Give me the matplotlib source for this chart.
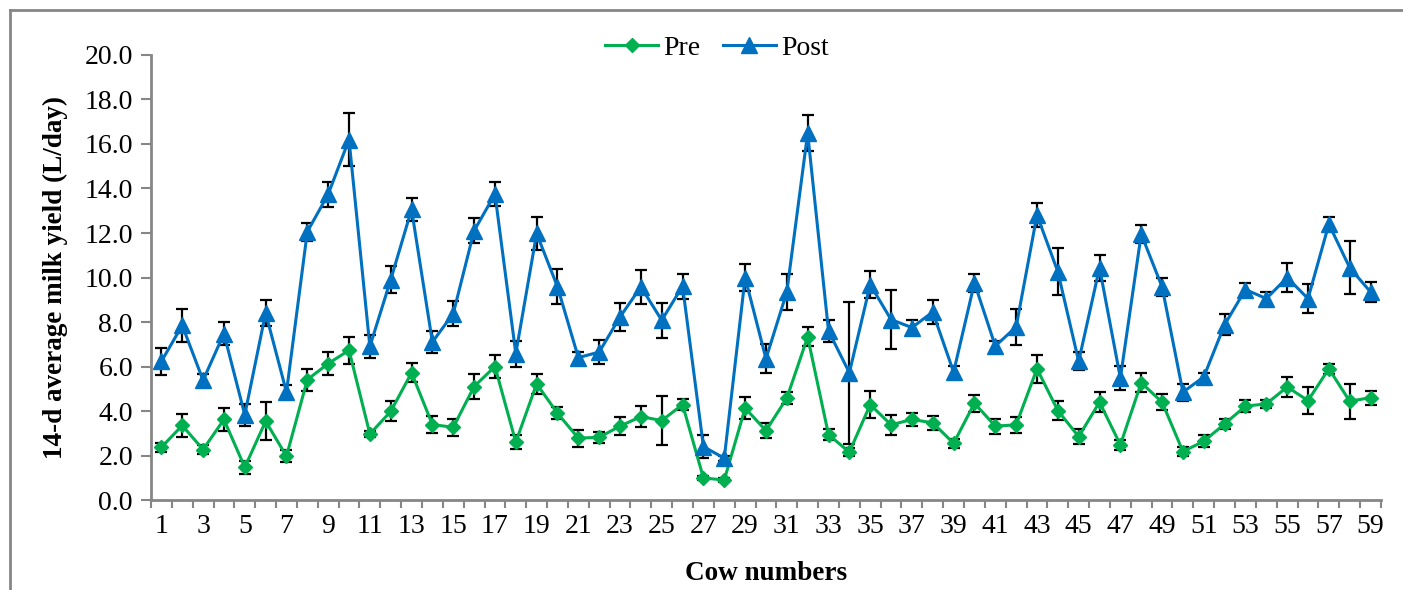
import numpy as np
import matplotlib.pyplot as plt
from matplotlib.lines import Line2D

plt.rcParams['font.family'] = ['Liberation Serif', 'DejaVu Serif']

# ---------------------
# Data
cows = np.arange(1, 60)

pre = [2.37, 3.35, 2.27, 3.62, 1.47, 3.54, 1.97, 5.41, 6.13, 6.73,
       2.97, 3.98, 5.72, 3.39, 3.27, 5.10, 6.00, 2.60, 5.22, 3.90,
       2.78, 2.82, 3.32, 3.75, 3.57, 4.29, 0.99, 0.90, 4.13, 3.12,
       4.58, 7.33, 2.94, 2.15, 4.29, 3.38, 3.62, 3.47, 2.55, 4.35,
       3.32, 3.38, 5.90, 4.02, 2.85, 4.40, 2.48, 5.27, 4.40, 2.18,
       2.64, 3.42, 4.22, 4.32, 5.08, 4.47, 5.90, 4.44, 4.60]
pre_err = [0.20, 0.50, 0.20, 0.50, 0.30, 0.85, 0.28, 0.50, 0.50, 0.60,
           0.15, 0.45, 0.42, 0.38, 0.38, 0.56, 0.50, 0.32, 0.44, 0.27,
           0.38, 0.24, 0.41, 0.49, 1.09, 0.26, 0.10, 0.10, 0.50, 0.33,
           0.28, 0.43, 0.26, 0.17, 0.62, 0.44, 0.28, 0.32, 0.21, 0.39,
           0.34, 0.37, 0.62, 0.41, 0.32, 0.45, 0.21, 0.43, 0.36, 0.19,
           0.26, 0.24, 0.28, 0.18, 0.45, 0.59, 0.23, 0.79, 0.32]

post = [6.23, 7.85, 5.38, 7.48, 3.83, 8.41, 4.85, 12.06, 13.74, 16.20,
        6.90, 9.90, 13.06, 7.10, 8.38, 12.10, 13.75, 6.58, 11.98, 9.58,
        6.40, 6.65, 8.23, 9.58, 8.08, 9.61, 2.40, 1.88, 10.00, 6.35,
        9.35, 16.49, 7.60, 5.72, 9.68, 8.11, 7.75, 8.45, 5.75, 9.76,
        6.92, 7.78, 12.81, 10.26, 6.23, 10.44, 5.48, 11.95, 9.58, 4.85,
        5.53, 7.88, 9.46, 9.05, 10.00, 9.05, 12.40, 10.44, 9.35]
post_err = [0.60, 0.75, 0.30, 0.50, 0.50, 0.60, 0.30, 0.40, 0.57, 1.20,
            0.50, 0.60, 0.50, 0.48, 0.58, 0.56, 0.52, 0.58, 0.73, 0.79,
            0.23, 0.52, 0.63, 0.77, 0.79, 0.56, 0.50, 0.12, 0.62, 0.65,
            0.79, 0.80, 0.51, 3.20, 0.62, 1.31, 0.34, 0.55, 0.26, 0.39,
            0.24, 0.82, 0.54, 1.05, 0.40, 0.59, 0.53, 0.42, 0.41, 0.38,
            0.19, 0.47, 0.31, 0.29, 0.63, 0.66, 0.30, 1.18, 0.47]

green = '#00B050'
blue = '#0070C0'
grey = '#868686'

fig = plt.figure(figsize=(14.03, 5.90), dpi=100)
ax = fig.add_axes([0.1076, 0.1525, 0.8767, 0.7543])

# outer frame (left and top only visible)
fig.add_artist(Line2D([0.0071, 0.0071], [0, 0.983], transform=fig.transFigure, color=grey, lw=2))
fig.add_artist(Line2D([0.0071, 1.0], [0.983, 0.983], transform=fig.transFigure, color=grey, lw=2))

err_kw = dict(fmt='none', ecolor='black', elinewidth=1.6, capsize=4, capthick=1.6, zorder=2)
ax.errorbar(cows, pre, yerr=pre_err, **err_kw)
ax.errorbar(cows, post, yerr=post_err, **err_kw)

ax.plot(cows, pre, color=green, lw=2.2, marker='D', markersize=7.5, label='Pre', zorder=3)
ax.plot(cows, post, color=blue, lw=2.2, marker='^', markersize=11, label='Post', zorder=3)

ax.set_xlim(0.5, 59.5)
ax.set_ylim(0, 20)
ax.set_yticks(np.arange(0, 20.1, 2))
ax.set_yticklabels([f'{v:.1f}' for v in np.arange(0, 20.1, 2)])

# category axis: ticks between cows, labels on odd cows
ax.set_xticks(np.arange(0.5, 60, 1))
ax.set_xticklabels([])
ax.set_xticks(cows[::2], minor=True)
ax.set_xticklabels([str(c) for c in cows[::2]], minor=True)
ax.tick_params(axis='x', which='minor', length=0, pad=10, labelsize=20)
ax.tick_params(axis='x', which='major', length=6, width=1.5, color=grey, direction='out')
ax.tick_params(axis='y', length=7, width=1.5, color=grey, direction='out', labelsize=20, pad=6)

for s in ['top', 'right']:
    ax.spines[s].set_visible(False)
for s in ['left', 'bottom']:
    ax.spines[s].set_color(grey)
    ax.spines[s].set_linewidth(2)

ax.set_ylabel('14-d average milk yield (L/day)', fontsize=19.5, fontweight='bold', labelpad=12)
ax.set_xlabel('Cow numbers', fontsize=19.5, fontweight='bold', labelpad=16)

ax.legend(loc='center', bbox_to_anchor=(0.511, 0.919), bbox_transform=fig.transFigure,
          ncol=2, frameon=False, fontsize=20, handlelength=1.9, columnspacing=0.8,
          handletextpad=0.2)

fig.savefig('out.png', dpi=100)
